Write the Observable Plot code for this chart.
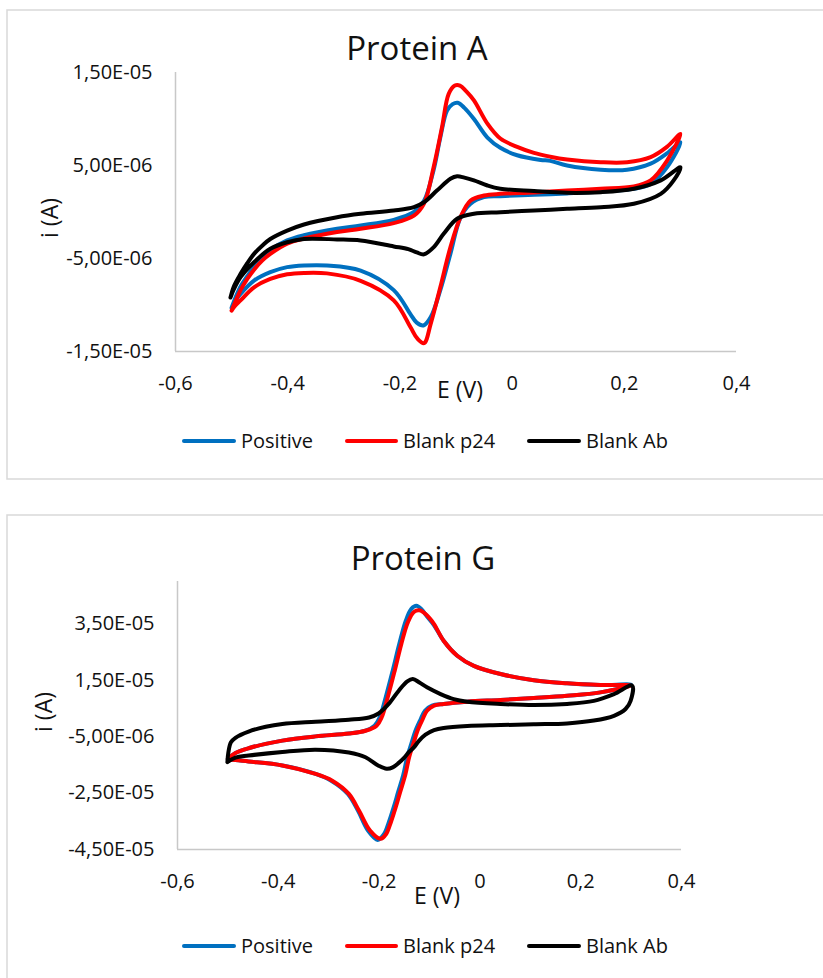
<!DOCTYPE html>
<html>
<head>
<meta charset="utf-8">
<script src="https://cdn.jsdelivr.net/npm/d3@7"></script>
<script src="https://cdn.jsdelivr.net/npm/@observablehq/plot@0.6"></script>
<style>
  body { margin: 0; background: #fff; overflow: hidden; }
  #root { position: relative; width: 823px; height: 978px; overflow: hidden; background: #fff; }
  .holder { position: absolute; left: 0; }
  #overlay { position: absolute; left: 0; top: 0; pointer-events: none; }
</style>
</head>
<body>
<div id="root"></div>
<script>
// ---------------- Data (E in V, current in µA) ----------------
const seriesNames = ["Positive", "Blank p24", "Blank Ab"];
const seriesColors = ["#0070C0", "#FF0000", "#000000"];
const xTicks = [-0.6, -0.4, -0.2, 0, 0.2, 0.4];

// Protein A
const titleA = "Protein A";
const yTicksA = [-1.5e-5, -5e-6, 5e-6, 1.5e-5];
const potentialA_positive = [-0.500,-0.493,-0.484,-0.472,-0.460,-0.445,-0.431,-0.401,-0.371,-0.312,-0.270,-0.211,-0.175,-0.157,-0.140,-0.128,-0.116,-0.106,-0.097,-0.085,-0.068,-0.044,-0.021,0.009,0.051,0.068,0.098,0.158,0.205,0.247,0.276,0.300,
  0.276,0.247,0.217,0.158,0.098,0.039,-0.021,-0.050,-0.074,-0.092,-0.110,-0.128,-0.145,-0.158,-0.170,-0.181,-0.211,-0.270,-0.330,-0.371,-0.401,-0.431,-0.460,-0.484,-0.494,-0.500];
const currentA_positive = [-10.3,-9.2,-8.0,-6.9,-5.9,-4.9,-4.1,-3.06,-2.5,-1.8,-1.45,-0.84,0.0,1.2,4.5,8.0,10.9,11.6,11.75,11.2,10.0,8.0,6.9,6.1,5.6,5.5,5.0,4.55,4.55,5.2,6.3,7.5,
  4.8,3.0,2.5,2.2,2.0,1.85,1.7,1.6,0.9,-0.6,-4.5,-8.4,-11.3,-12.2,-11.9,-11.0,-8.4,-6.3,-5.75,-5.75,-5.93,-6.47,-7.37,-8.8,-9.6,-10.3];
const potentialA_p24 = [-0.500,-0.493,-0.484,-0.472,-0.460,-0.445,-0.431,-0.401,-0.371,-0.312,-0.270,-0.211,-0.175,-0.157,-0.140,-0.125,-0.113,-0.102,-0.093,-0.082,-0.068,-0.044,-0.021,0.009,0.039,0.068,0.098,0.158,0.205,0.247,0.276,0.300,
  0.276,0.247,0.217,0.158,0.098,0.039,-0.021,-0.050,-0.074,-0.092,-0.110,-0.128,-0.145,-0.157,-0.169,-0.181,-0.211,-0.270,-0.330,-0.371,-0.401,-0.431,-0.460,-0.484,-0.494,-0.500];
const currentA_p24 = [-10.6,-9.6,-8.4,-7.2,-6.2,-5.2,-4.5,-3.4,-2.85,-2.15,-1.8,-1.2,-0.4,0.9,4.8,9.1,12.7,13.6,13.6,13.0,12.0,9.5,7.9,7.0,6.35,5.95,5.65,5.35,5.35,5.9,7.0,8.4,
  5.5,3.4,2.75,2.5,2.3,2.1,1.95,1.77,1.24,-0.56,-3.8,-8.1,-12.0,-14.1,-13.6,-12.4,-9.5,-7.4,-6.6,-6.55,-6.7,-7.2,-8.1,-9.5,-10.1,-10.6];
const potentialA_ab = [-0.502,-0.496,-0.484,-0.472,-0.460,-0.445,-0.431,-0.401,-0.371,-0.312,-0.270,-0.211,-0.175,-0.157,-0.134,-0.110,-0.098,-0.085,-0.068,-0.044,-0.021,0.039,0.098,0.158,0.217,0.265,0.300,
  0.288,0.265,0.217,0.158,0.098,0.039,-0.021,-0.068,-0.098,-0.122,-0.140,-0.157,-0.170,-0.185,-0.211,-0.270,-0.312,-0.371,-0.401,-0.431,-0.460,-0.484,-0.496,-0.502];
const currentA_ab = [-9.2,-8.0,-6.65,-5.5,-4.5,-3.6,-2.9,-2.0,-1.34,-0.56,-0.19,0.16,0.52,1.05,2.3,3.57,3.85,3.7,3.4,2.85,2.5,2.25,2.06,2.13,2.5,3.4,4.8,
  3.4,1.95,0.88,0.52,0.34,0.16,-0.02,-0.19,-0.73,-2.35,-3.8,-4.55,-4.35,-4.0,-3.7,-3.06,-2.95,-2.9,-3.25,-3.96,-5.4,-7.0,-8.3,-9.2];

// Protein G
const titleG = "Protein G";
const yTicksG = [-4.5e-5, -2.5e-5, -5e-6, 1.5e-5, 3.5e-5];
const potentialG_positive = [-0.500,-0.485,-0.459,-0.392,-0.326,-0.260,-0.227,-0.209,-0.199,-0.187,-0.173,-0.160,-0.147,-0.136,-0.126,-0.116,-0.104,-0.091,-0.072,-0.045,-0.012,0.041,0.107,0.173,0.239,0.300,
  0.239,0.173,0.107,0.041,-0.025,-0.072,-0.095,-0.109,-0.118,-0.128,-0.136,-0.144,-0.152,-0.162,-0.171,-0.181,-0.190,-0.203,-0.222,-0.242,-0.262,-0.295,-0.326,-0.392,-0.459,-0.485,-0.500];
const currentG_positive = [-12.9,-10.8,-9.1,-6.4,-4.9,-3.9,-2.9,-1.1,1.8,8.9,18.4,27.8,36.1,40.3,41.4,40.2,37.4,34.5,29.0,23.7,20.1,17.2,15.0,13.9,13.3,13.4,
  10.7,9.5,8.7,8.0,7.4,6.6,6.0,4.2,1.0,-3.0,-7.5,-12.0,-18.5,-24.5,-30.0,-35.5,-39.5,-41.6,-38.3,-31.2,-25.3,-20.6,-18.2,-15.2,-13.8,-13.3,-12.9];
const potentialG_p24 = [-0.500,-0.485,-0.459,-0.392,-0.326,-0.260,-0.227,-0.205,-0.195,-0.183,-0.169,-0.156,-0.143,-0.131,-0.120,-0.110,-0.100,-0.091,-0.072,-0.045,-0.012,0.041,0.107,0.173,0.239,0.300,
  0.239,0.173,0.107,0.041,-0.025,-0.072,-0.091,-0.105,-0.114,-0.124,-0.132,-0.140,-0.148,-0.158,-0.167,-0.177,-0.186,-0.197,-0.218,-0.240,-0.260,-0.293,-0.326,-0.392,-0.459,-0.485,-0.500];
const currentG_p24 = [-12.9,-10.8,-9.1,-6.4,-4.9,-3.9,-2.9,-1.1,1.8,8.9,18.4,27.8,35.5,39.2,39.8,38.8,37.0,34.9,29.0,23.7,20.1,17.2,15.0,13.9,13.3,13.1,
  10.7,9.5,8.7,8.0,7.4,6.6,6.0,4.2,1.0,-3.0,-7.5,-12.0,-18.5,-24.5,-30.0,-35.5,-39.5,-41.2,-38.3,-31.2,-25.3,-20.6,-18.2,-15.2,-13.8,-13.3,-12.9];
const potentialG_ab = [-0.501,-0.499,-0.494,-0.485,-0.459,-0.425,-0.392,-0.326,-0.260,-0.220,-0.201,-0.181,-0.161,-0.144,-0.133,-0.120,-0.105,-0.078,-0.052,-0.025,0.041,0.107,0.173,0.226,0.266,0.302,
  0.299,0.289,0.266,0.226,0.173,0.107,0.041,-0.025,-0.072,-0.091,-0.108,-0.121,-0.131,-0.141,-0.151,-0.161,-0.173,-0.185,-0.201,-0.227,-0.260,-0.326,-0.392,-0.459,-0.485,-0.501];
const currentG_ab = [-14.0,-10.5,-7.0,-5.4,-3.2,-1.5,-0.5,0.3,1.0,1.8,3.2,6.6,11.3,14.6,15.4,14.2,12.5,10.1,8.3,7.4,6.6,6.2,6.6,7.7,10.1,13.1,
  7.7,4.8,2.4,0.7,-0.3,-0.6,-0.9,-1.2,-1.9,-2.7,-4.3,-6.5,-8.8,-10.5,-12.6,-14.3,-15.9,-16.4,-15.3,-12.3,-10.6,-9.6,-10.4,-11.7,-12.4,-14.0];

// ---------------- Helpers ----------------
const toRows = (E, I) => E.map((e, k) => ({E: e, I: I[k] * 1e-6}));
const fmtY = v => {
  const [m, e] = v.toExponential(2).split("e");
  const n = +e;
  return m.replace(".", ",") + "E" + (n < 0 ? "-" : "+") + String(Math.abs(n)).padStart(2, "0");
};
const fmtX = v => String(Math.round(v * 10) / 10 || 0).replace(".", ",");

const FONT = "'Open Sans', sans-serif";
const TXT = "#111111";

function makeChart({loops, xDomain, yDomain, yTicks, height, margins}) {
  const marks = [
    Plot.ruleX([xDomain[0]], {stroke: "#c8c8c8", strokeWidth: 1.5}),
    Plot.ruleY([yDomain[0]], {stroke: "#c8c8c8", strokeWidth: 1.5}),
    Plot.axisX({ticks: xTicks, tickFormat: fmtX, tickSize: 0, tickPadding: 24, label: null}),
    Plot.axisY({ticks: yTicks, tickFormat: fmtY, tickSize: 0, tickPadding: 23, label: null}),
    ...loops.map((rows, k) => Plot.line(rows, {
      x: "E", y: "I", stroke: seriesColors[k], strokeWidth: 4,
      curve: "catmull-rom", strokeLinejoin: "round", strokeLinecap: "round"
    }))
  ];
  return Plot.plot({
    width: 823, height,
    marginLeft: margins[0], marginRight: margins[1], marginTop: margins[2], marginBottom: margins[3],
    x: {domain: xDomain},
    y: {domain: yDomain},
    style: {fontFamily: FONT, fontSize: "20px", color: TXT, background: "transparent", overflow: "visible"},
    marks
  });
}

const root = document.getElementById("root");

function place(svg, top) {
  const d = document.createElement("div");
  d.className = "holder";
  d.style.top = top + "px";
  d.appendChild(svg);
  root.appendChild(d);
}

// Top chart: plot area x 175..736, y 72..351
place(makeChart({
  loops: [toRows(potentialA_positive, currentA_positive), toRows(potentialA_p24, currentA_p24), toRows(potentialA_ab, currentA_ab)],
  xDomain: [-0.6, 0.4], yDomain: [-1.5e-5, 1.5e-5], yTicks: yTicksA,
  height: 420, margins: [175, 87, 72, 69]
}), 0);

// Bottom chart: plot area x 177..681, y 581..849 (svg top at 500)
place(makeChart({
  loops: [toRows(potentialG_positive, currentG_positive), toRows(potentialG_p24, currentG_p24), toRows(potentialG_ab, currentG_ab)],
  xDomain: [-0.6, 0.4], yDomain: [-4.5e-5, 5.0e-5], yTicks: yTicksG,
  height: 400, margins: [177, 142, 81, 51]
}), 500);

// ---------------- Overlay: frames, titles, axis titles, legends ----------------
const ov = d3.select(root).append("svg").attr("id", "overlay")
  .attr("width", 823).attr("height", 978)
  .style("font-family", FONT).attr("fill", TXT);

ov.append("rect").attr("x", 7).attr("y", 10).attr("width", 900).attr("height", 469)
  .attr("fill", "none").attr("stroke", "#d9d9d9").attr("stroke-width", 1.5);
ov.append("rect").attr("x", 7).attr("y", 515).attr("width", 900).attr("height", 500)
  .attr("fill", "none").attr("stroke", "#d9d9d9").attr("stroke-width", 1.5);

function decorate({title, titleX, titleY, exX, exY, iaX, iaY, legY}) {
  ov.append("text").attr("x", titleX).attr("y", titleY + 0.357 * 33)
    .attr("text-anchor", "middle").attr("font-size", 33).text(title);
  ov.append("text").attr("x", exX).attr("y", exY + 0.357 * 23)
    .attr("text-anchor", "middle").attr("font-size", 23).text("E (V)");
  ov.append("text").attr("transform", `translate(${iaX},${iaY}) rotate(-90)`)
    .attr("text-anchor", "middle").attr("dy", "0.33em").attr("font-size", 23).text("i (A)");
  const lineX = [[184, 234], [347, 396], [529, 579]];
  const textX = [241, 403, 586];
  seriesNames.forEach((name, k) => {
    ov.append("line").attr("x1", lineX[k][0]).attr("x2", lineX[k][1])
      .attr("y1", legY).attr("y2", legY)
      .attr("stroke", seriesColors[k]).attr("stroke-width", 4).attr("stroke-linecap", "round");
    ov.append("text").attr("x", textX[k]).attr("y", legY + 0.357 * 20)
      .attr("font-size", 20).text(name);
  });
}

decorate({title: titleA, titleX: 417, titleY: 48, exX: 460, exY: 390, iaX: 50, iaY: 218, legY: 441});
decorate({title: titleG, titleX: 423, titleY: 558, exX: 437, exY: 896, iaX: 44, iaY: 712, legY: 946});
</script>
</body>
</html>
